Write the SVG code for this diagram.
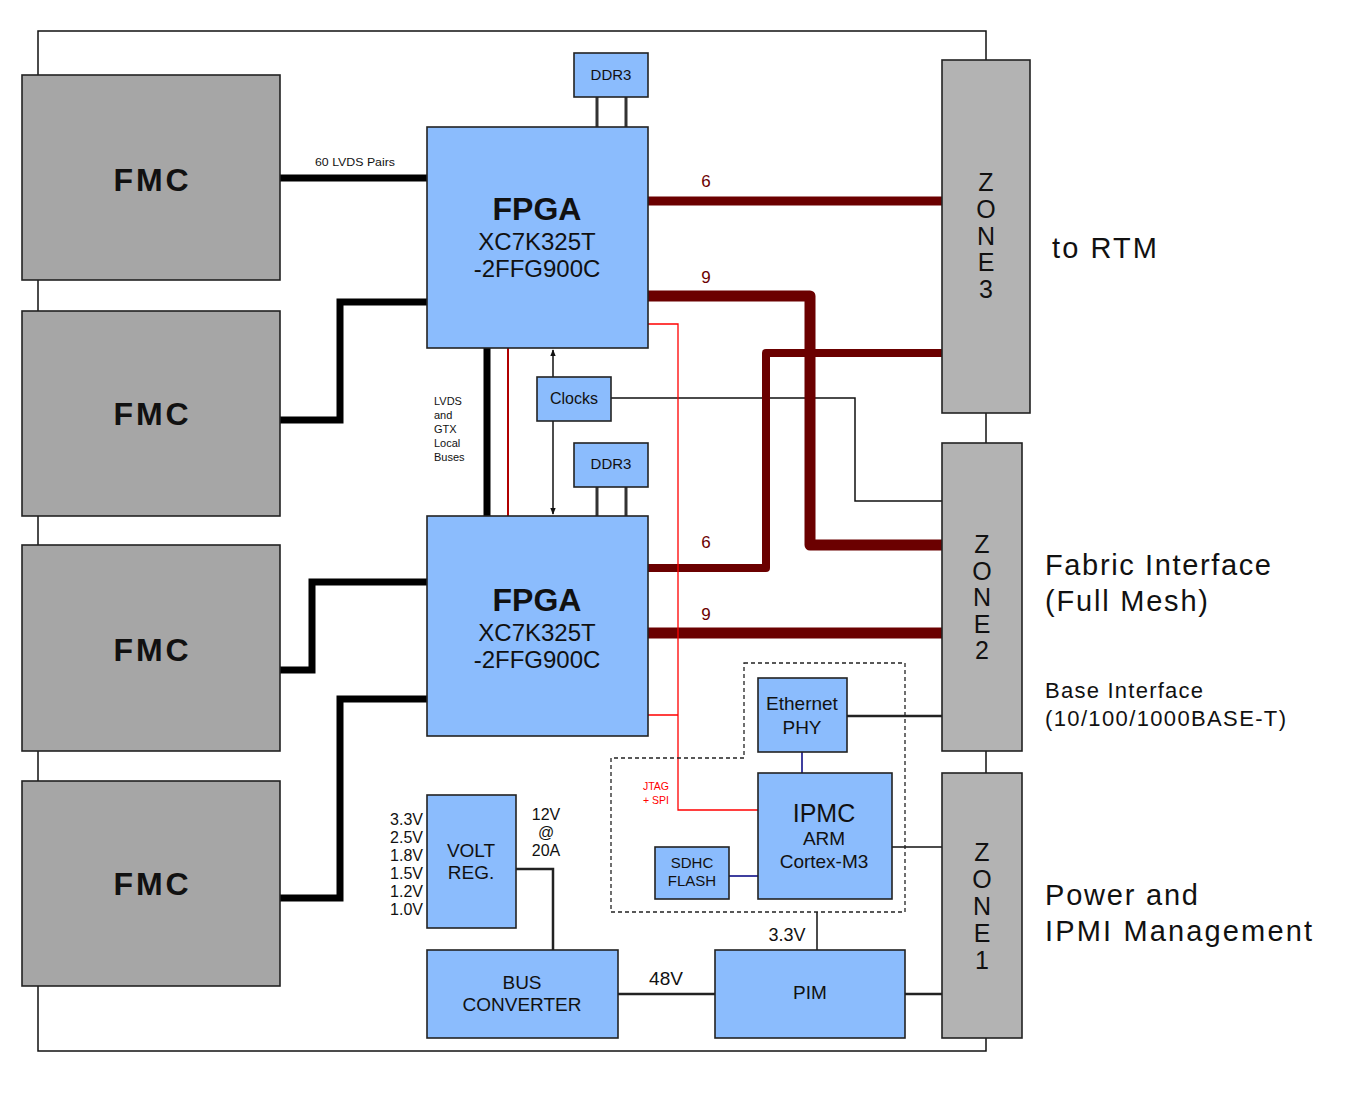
<svg xmlns="http://www.w3.org/2000/svg" width="1355" height="1098" viewBox="0 0 1355 1098">
<defs>
<style>
text{font-family:"Liberation Sans",Arial,sans-serif;fill:#111}
.blue{fill:#8bbcfd;stroke:#222;stroke-width:1.6}
.fmc{fill:#a6a6a6;stroke:#222;stroke-width:1.6}
.zone{fill:#b3b3b3;stroke:#222;stroke-width:1.6}
.fmct{font-size:32px;font-weight:bold;text-anchor:middle}
.c{text-anchor:middle}
.thick{fill:none;stroke:#000;stroke-width:7}
.dr{fill:none;stroke:#6b0000;stroke-linejoin:round}
.thin{fill:none;stroke:#111;stroke-width:1.5}
.red{fill:none;stroke:#ff0000;stroke-width:1.3}
.navy{fill:none;stroke:#000080;stroke-width:1.5}
.num{font-size:17px;fill:#6b0000;text-anchor:middle}
.zt{font-size:25px;text-anchor:middle}
.side{font-size:29px}
</style>
<marker id="ah" viewBox="0 0 10 10" refX="9" refY="5" markerWidth="7" markerHeight="7" orient="auto-start-reverse" markerUnits="userSpaceOnUse">
<path d="M0,1 L10,5 L0,9 z" fill="#111"/>
</marker>
</defs>
<rect width="1355" height="1098" fill="#fff"/>
<rect id="board" x="38" y="31" width="948" height="1020" fill="none" stroke="#111" stroke-width="1.5"/>

<g id="connectors">
<path class="thick" d="M280,178 H427"/>
<path class="thick" d="M280,420 H340 V302 H427"/>
<path class="thick" d="M280,670 H312 V582 H427"/>
<path class="thick" d="M280,898 H340 V699 H427"/>
<path class="thick" d="M487,348 V516"/>
<path d="M508,348 V516" fill="none" stroke="#b00000" stroke-width="2"/>
<path d="M597,97 V127 M626,97 V127 M597,487 V516 M626,487 V516" fill="none" stroke="#333" stroke-width="3"/>
<path class="thin" d="M553,377 V350" marker-end="url(#ah)"/>
<path class="thin" d="M553,421 V514" marker-end="url(#ah)"/>
<path class="thin" d="M611,398 H855 V501 H942"/>
<path class="dr" stroke-width="9" d="M648,201 H942"/>
<path class="dr" stroke-width="11" d="M648,296 H810 V545 H942"/>
<path class="dr" stroke-width="8" d="M648,568 H766 V353 H942"/>
<path class="dr" stroke-width="11" d="M648,633 H942"/>
<path class="red" d="M648,324 H678 V810 H758 M648,715 H678"/>
<path d="M847,716 H942" fill="none" stroke="#222" stroke-width="2.5"/>
<path class="navy" d="M802,752 V773 M729,876 H758"/>
<path class="thin" d="M892,847 H942"/>
<path d="M516,869 H553 V950" fill="none" stroke="#222" stroke-width="2.5"/>
<path d="M618,994 H715" fill="none" stroke="#222" stroke-width="2.5"/>
<path class="thin" d="M817,912 V950"/>
<path d="M905,994 H942" fill="none" stroke="#222" stroke-width="2.5"/>
<path d="M744,663 H905 V912 H611 V758 H744 Z" fill="none" stroke="#222" stroke-width="1.3" stroke-dasharray="4,3"/>
<text x="355" y="166" font-size="11" class="c" textLength="80" lengthAdjust="spacingAndGlyphs">60 LVDS Pairs</text>
<g font-size="11" fill="#111">
<text x="434" y="405">LVDS</text>
<text x="434" y="419">and</text>
<text x="434" y="433">GTX</text>
<text x="434" y="447">Local</text>
<text x="434" y="461">Buses</text>
</g>
<text class="num" x="706" y="187">6</text>
<text class="num" x="706" y="283">9</text>
<text class="num" x="706" y="548">6</text>
<text class="num" x="706" y="620">9</text>
<text x="656" y="790" font-size="10.5" class="c" style="fill:#ff0000">JTAG</text>
<text x="656" y="804" font-size="10.5" class="c" style="fill:#ff0000">+ SPI</text>
<text x="546" y="820" font-size="16" class="c">12V</text>
<text x="546" y="838" font-size="16" class="c">@</text>
<text x="546" y="856" font-size="16" class="c">20A</text>
<g font-size="16" text-anchor="end">
<text x="423" y="825">3.3V</text>
<text x="423" y="843">2.5V</text>
<text x="423" y="861">1.8V</text>
<text x="423" y="879">1.5V</text>
<text x="423" y="897">1.2V</text>
<text x="423" y="915">1.0V</text>
</g>
<text x="666" y="985" font-size="19" class="c">48V</text>
<text x="787" y="941" font-size="18" class="c">3.3V</text>
</g>

<g id="fmc1"><rect class="fmc" x="22" y="75" width="258" height="205"/><text class="fmct" x="151" y="191" textLength="75">FMC</text></g>
<g id="fmc2"><rect class="fmc" x="22" y="311" width="258" height="205"/><text class="fmct" x="151" y="425" textLength="75">FMC</text></g>
<g id="fmc3"><rect class="fmc" x="22" y="545" width="258" height="206"/><text class="fmct" x="151" y="661" textLength="75">FMC</text></g>
<g id="fmc4"><rect class="fmc" x="22" y="781" width="258" height="205"/><text class="fmct" x="151" y="895" textLength="75">FMC</text></g>

<g id="fpga1"><rect class="blue" x="427" y="127" width="221" height="221"/>
<text x="537" y="220" font-size="32" font-weight="bold" class="c">FPGA</text>
<text x="537" y="250" font-size="24" class="c">XC7K325T</text>
<text x="537" y="277" font-size="24" class="c">-2FFG900C</text></g>
<g id="fpga2"><rect class="blue" x="427" y="516" width="221" height="220"/>
<text x="537" y="611" font-size="32" font-weight="bold" class="c">FPGA</text>
<text x="537" y="641" font-size="24" class="c">XC7K325T</text>
<text x="537" y="668" font-size="24" class="c">-2FFG900C</text></g>

<g id="ddr3a"><rect class="blue" x="574" y="53" width="74" height="44"/><text x="611" y="80" font-size="15" class="c">DDR3</text></g>
<g id="ddr3b"><rect class="blue" x="574" y="443" width="74" height="44"/><text x="611" y="469" font-size="15" class="c">DDR3</text></g>
<g id="clocks"><rect class="blue" x="537" y="377" width="74" height="44"/><text x="574" y="404" font-size="16" class="c">Clocks</text></g>

<g id="ethphy"><rect class="blue" x="758" y="678" width="89" height="74"/>
<text x="802" y="710" font-size="19" class="c">Ethernet</text>
<text x="802" y="734" font-size="19" class="c">PHY</text></g>
<g id="ipmc"><rect class="blue" x="758" y="773" width="134" height="126"/>
<text x="824" y="822" font-size="25" class="c">IPMC</text>
<text x="824" y="845" font-size="19" class="c">ARM</text>
<text x="824" y="868" font-size="19" class="c">Cortex-M3</text></g>
<g id="sdhc"><rect class="blue" x="655" y="847" width="74" height="52"/>
<text x="692" y="868" font-size="15" class="c">SDHC</text>
<text x="692" y="886" font-size="15" class="c">FLASH</text></g>

<g id="voltreg"><rect class="blue" x="427" y="795" width="89" height="133"/>
<text x="471" y="857" font-size="19" class="c">VOLT</text>
<text x="471" y="879" font-size="19" class="c">REG.</text></g>
<g id="busconv"><rect class="blue" x="427" y="950" width="191" height="88"/>
<text x="522" y="989" font-size="19" class="c">BUS</text>
<text x="522" y="1011" font-size="19" class="c">CONVERTER</text></g>
<g id="pim"><rect class="blue" x="715" y="950" width="190" height="88"/>
<text x="810" y="999" font-size="19" class="c">PIM</text></g>

<g id="zone3"><rect class="zone" x="942" y="60" width="88" height="353"/>
<text class="zt" x="986" y="191">Z</text><text class="zt" x="986" y="218">O</text><text class="zt" x="986" y="245">N</text><text class="zt" x="986" y="271">E</text><text class="zt" x="986" y="298">3</text></g>
<g id="zone2"><rect class="zone" x="942" y="443" width="80" height="308"/>
<text class="zt" x="982" y="553">Z</text><text class="zt" x="982" y="580">O</text><text class="zt" x="982" y="606">N</text><text class="zt" x="982" y="633">E</text><text class="zt" x="982" y="659">2</text></g>
<g id="zone1"><rect class="zone" x="942" y="773" width="80" height="265"/>
<text class="zt" x="982" y="861">Z</text><text class="zt" x="982" y="888">O</text><text class="zt" x="982" y="915">N</text><text class="zt" x="982" y="942">E</text><text class="zt" x="982" y="969">1</text></g>

<g id="labels">
<text class="side" x="1052" y="258" textLength="105">to RTM</text>
<text class="side" x="1045" y="575" textLength="226">Fabric Interface</text>
<text class="side" x="1045" y="611" textLength="163">(Full Mesh)</text>
<text x="1045" y="698" font-size="22" textLength="158">Base Interface</text>
<text x="1045" y="726" font-size="22" textLength="241">(10/100/1000BASE-T)</text>
<text class="side" x="1045" y="905" textLength="153">Power and</text>
<text class="side" x="1045" y="941" textLength="267">IPMI Management</text>
</g>
</svg>
